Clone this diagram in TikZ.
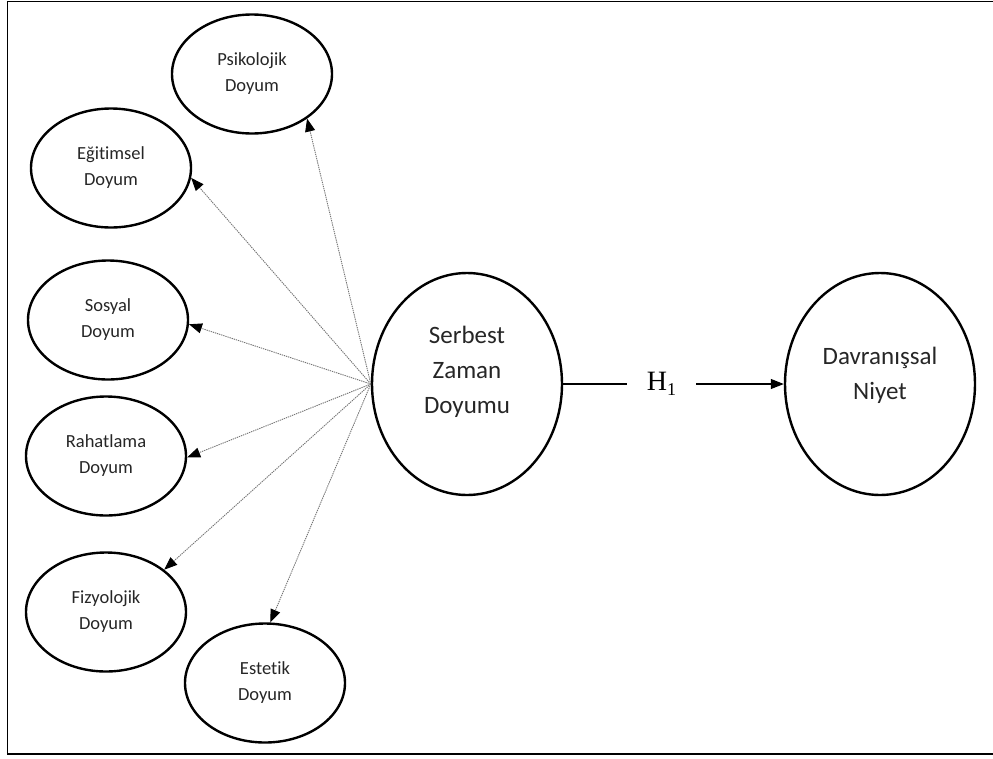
\documentclass[tikz,border=0pt]{standalone}
\usepackage{fontspec}
\setmainfont[Ligatures=CommonOff]{Carlito}
\newfontfamily\hfont{Liberation Serif}
\usetikzlibrary{shapes.geometric,arrows.meta}
\begin{document}
\begin{tikzpicture}[x=1pt,y=-1pt,
  smallell/.style={ellipse,draw,line width=2.4pt,minimum width=160pt,minimum height=119pt,inner sep=0pt,align=center,text=black!85,font=\fontsize{18.5}{26}\selectfont},
  bigell/.style={ellipse,draw,line width=2.4pt,minimum width=190pt,minimum height=222pt,inner sep=0pt,align=center,text=black!85,font=\fontsize{25}{35}\selectfont},
  dotarrow/.style={draw=black!55,line width=0.9pt,dash pattern=on 1.3pt off 0.9pt,-{Triangle[length=13pt,width=10pt,color=black]}},
  solidline/.style={draw=black,line width=1.1pt},
  solidarrow/.style={draw=black,line width=1.1pt,-{Triangle[length=13pt,width=10pt]}}
]
\useasboundingbox (0,0) rectangle (993,758);
\draw[line width=1.6pt] (7.5,1.5) rectangle (1000,754);

\node[smallell] (psik) at (252,74) {Psikolojik\\Doyum};
\node[smallell] (egit) at (111,168) {Eğitimsel\\Doyum};
\node[smallell] (sosy) at (108,320) {Sosyal\\Doyum};
\node[smallell] (raha) at (106,456) {Rahatlama\\Doyum};
\node[smallell] (fizy) at (106,612) {Fizyolojik\\Doyum};
\node[smallell] (este) at (265,683) {Estetik\\Doyum};

\node[bigell] (serb) at (467,384) {Serbest\\Zaman\\Doyumu\\[-6pt]\mbox{}};
\node[bigell] (davr) at (880,384) {Davranışsal\\Niyet\\[-14pt]\mbox{}};

\node[minimum width=69pt,inner sep=0pt,font=\hfont\fontsize{28}{30}\selectfont] (h1) at (661.5,384)
  {H\raisebox{-0.2em}{\fontsize{18}{18}\selectfont 1}};

\coordinate (hub) at (serb.west);
\draw[dotarrow] (hub) -- (psik.-39);
\draw[dotarrow] (hub) -- (egit.-7);
\draw[dotarrow] (hub) -- (sosy.-3);
\draw[dotarrow] (hub) -- (raha.-1);
\draw[dotarrow] (hub) -- (fizy.36);
\draw[dotarrow] (hub) -- (este.85);

\draw[solidline] (serb.east) -- (h1.west);
\draw[solidarrow] (h1.east) -- (davr.west);
\end{tikzpicture}
\end{document}
